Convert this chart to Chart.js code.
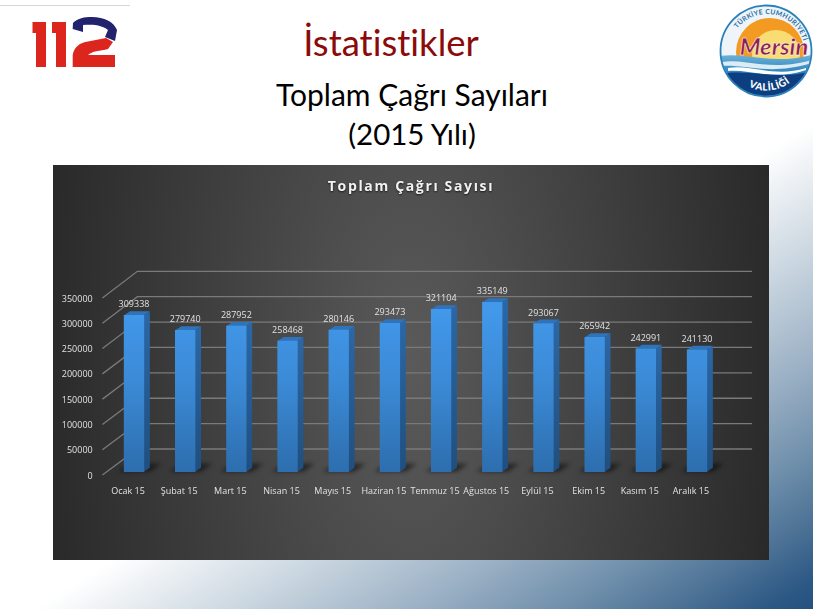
<!DOCTYPE html>
<html>
<head>
<meta charset="utf-8">
<title>Toplam Çağrı Sayıları</title>
<script src="https://cdn.jsdelivr.net/npm/chart.js@4"></script>
<style>
html,body{margin:0;padding:0;width:813px;height:609px;overflow:hidden}
body{position:relative;font-family:Lato,sans-serif;font-variant-ligatures:none;
  background:linear-gradient(148deg,#fff 0,#fff 56.5%,#c5d2dd 69%,#9db2c6 77.4%,#6f8fab 86%,#4f7497 91.7%,#2c5885 97.4%,#245180 100%)}
.t{position:absolute;left:0;white-space:nowrap;text-align:center;line-height:1}
#head{left:291px;width:200px;top:24px;font-size:36.5px;color:#8b0a0a}
#sub1{left:262px;width:300px;top:79px;font-size:30px;color:#000}
#sub2{left:262px;width:300px;top:119px;font-size:29.5px;color:#000}
#topline{position:absolute;left:0;top:5px;width:130px;height:1px;background:#d8d8d8}
#panel{position:absolute;left:53px;top:165px;width:716px;height:395px;
  background:radial-gradient(ellipse 52% 200% at center,#5a5a5a 0,#292929 100%)}
svg{position:absolute;left:0;top:0}
</style>
</head>
<body>
<div id="topline"></div>
<svg width="813" height="110" viewBox="0 0 813 110">
  <path fill="#dc251c" d="M32.5 22H46V67H36V33H32.5Z"/>
  <path fill="#dc251c" d="M52 22H66V67H56V33H52Z"/>
  <path fill="#dc251c" d="M72.7 67V55C74 47 80 42.5 88 41.5L106 38L113 42L108 49C100 51 92 51 88 55H115V67Z"/>
  <path fill="#22226e" d="M72.7 29L73 23C78 18 84 17 92 17C104 17 114 22 117 30L115 41L105 37L108 30C103 26 96 24 83 25V32Z"/>
  <defs>
    <path id="arcTop" d="M729 52A38 38 0 0 1 805 52"/>
    <path id="arcBot" d="M728 63A40 40 0 0 0 804 63"/>
    <clipPath id="disc"><circle cx="766" cy="51" r="45"/></clipPath>
    <linearGradient id="sea" x1="0" y1="0" x2="0" y2="1">
      <stop offset="0" stop-color="#6fb4da"/><stop offset=".5" stop-color="#1c78b8"/><stop offset="1" stop-color="#0d3f80"/>
    </linearGradient>
  </defs>
  <circle cx="766" cy="51" r="46" fill="#e8f0f6"/>
  <g clip-path="url(#disc)">
    <rect x="720" y="0" width="94" height="100" fill="#eef4f8"/>
    <circle cx="770" cy="52" r="34" fill="#f29a22"/>
    <circle cx="776" cy="54" r="24" fill="#f9dc72"/>
    <path fill="url(#sea)" d="M720 56C745 52 775 66 814 54V100H720Z"/>
    <path fill="#dcecf5" d="M722 62C745 58 770 72 812 60V63C770 76 745 64 722 66Z"/>
    <path fill="#fff" d="M728 68C750 64 775 78 806 68V70C775 81 750 69 728 71Z"/>
    <path fill="#0d3f80" d="M720 74C750 68 780 82 814 70V100H720Z"/>
  </g>
  <circle cx="766" cy="51" r="45.5" fill="none" stroke="#2a80b9" stroke-width="1.8"/>
  <text font-family="Lato" font-weight="700" font-size="6.8" fill="#1f6fa8" letter-spacing=".3"><textPath href="#arcTop" startOffset="56%" text-anchor="middle">TÜRKİYE CUMHURİYETİ</textPath></text>
  <text x="774" y="55" text-anchor="middle" font-family="Lato" font-style="italic" font-weight="900" font-size="23.5" fill="#8f1f4e" stroke="#fff" stroke-width=".5">Mersin</text>
  <text font-family="Lato" font-weight="900" font-size="10" fill="#fff" letter-spacing=".5"><textPath href="#arcBot" startOffset="54%" text-anchor="middle">VALİLİĞİ</textPath></text>
</svg>
<div class="t" id="head">İstatistikler</div>
<div class="t" id="sub1">Toplam Çağrı Sayıları</div>
<div class="t" id="sub2">(2015 Yılı)</div>
<div id="panel"><canvas id="myChart" width="716" height="395"></canvas></div>
<script>
var months = ['Ocak 15','Şubat 15','Mart 15','Nisan 15','Mayıs 15','Haziran 15',
              'Temmuz 15','Ağustos 15','Eylül 15','Ekim 15','Kasım 15','Aralık 15'];
var callCounts = [309338,279740,287952,258468,280146,293473,
                  321104,335149,293067,265942,242991,241130];
var yTicks = [0,50000,100000,150000,200000,250000,300000,350000];

var labelFont = '9px "Open Sans"';
var labelColor = '#e2e2e2';
var gridColor = '#7a7a7a';
var depthX = 6, depthY = 4;      // bar depth
var wallX = 35;                  // floor depth

function setTicks(scale){
  scale.ticks = yTicks.map(function(v){ return {value:v}; });
}

function barGradient(ctx){
  var c = ctx.chart, y = c.scales.yBar;
  if(!c.chartArea) return '#3a86d0';
  var g = c.ctx.createLinearGradient(0,y.getPixelForValue(320000),0,y.getPixelForValue(0));
  g.addColorStop(0,'#4298ea');
  g.addColorStop(0.45,'#3b8ad6');
  g.addColorStop(1,'#2d6eae');
  return g;
}

// back wall grid, floor shadow and the side and top of the bars
var depthPlugin = {
  id:'depth',
  afterLayout:function(chart){
    // title has wide letters and a soft shadow in the original
    var t = chart.titleBlock;
    if(t.spaced) return;
    t.spaced = true;
    var draw = t.draw;
    t.draw = function(){
      var c = chart.ctx;
      c.save();
      c.letterSpacing = '1.65px';
      c.shadowColor = 'rgba(0,0,0,.7)';
      c.shadowBlur = 2;
      c.shadowOffsetY = 1;
      draw.call(t);
      c.restore();
    };
  },
  beforeDatasetsDraw:function(chart){
    var c = chart.ctx, back = chart.scales.yBack, front = chart.scales.y;
    var right = chart.chartArea.right;
    var xFront = chart.chartArea.left - 6;
    c.save();
    c.strokeStyle = gridColor;
    c.lineWidth = 1.3;
    yTicks.forEach(function(v){
      var yb = back.getPixelForValue(v), yf = front.getPixelForValue(v);
      c.beginPath();
      c.moveTo(xFront,yf);
      c.lineTo(xFront+wallX,yb);
      c.lineTo(right+29.5,yb);
      c.stroke();
    });
    c.restore();

    var base = chart.scales.yBar.getPixelForValue(0);
    var bars = chart.getDatasetMeta(0).data;
    c.save();
    c.filter = 'blur(2px)';
    c.fillStyle = 'rgba(0,0,0,.5)';
    bars.forEach(function(b){
      var l = b.x-b.width/2, r = b.x+b.width/2;
      c.beginPath();
      c.moveTo(l-6,base);
      c.lineTo(r+6,base);
      c.lineTo(r+17,base-8);
      c.lineTo(l+6,base-8);
      c.closePath();
      c.fill();
    });
    c.restore();

    c.save();
    bars.forEach(function(b){
      var l = b.x-b.width/2, r = b.x+b.width/2;
      var g = c.createLinearGradient(0,b.y,0,base);
      g.addColorStop(0,'#2a67a6');
      g.addColorStop(1,'#1f4f80');
      c.fillStyle = g;
      c.beginPath();
      c.moveTo(r,b.y);
      c.lineTo(r+depthX,b.y-depthY);
      c.lineTo(r+depthX,base-depthY);
      c.lineTo(r,base);
      c.closePath();
      c.fill();
      c.fillStyle = '#2f74bb';
      c.beginPath();
      c.moveTo(l,b.y);
      c.lineTo(l+depthX,b.y-depthY);
      c.lineTo(r+depthX,b.y-depthY);
      c.lineTo(r,b.y);
      c.closePath();
      c.fill();
    });
    c.restore();
  },
  afterDatasetsDraw:function(chart){
    var c = chart.ctx;
    var bars = chart.getDatasetMeta(0).data;
    c.save();
    c.font = labelFont;
    c.fillStyle = labelColor;
    c.textAlign = 'center';
    c.textBaseline = 'middle';
    bars.forEach(function(b,i){
      c.fillText(callCounts[i],b.x,b.y-10.5);
    });
    c.restore();
  }
};

var ctx = document.getElementById('myChart').getContext('2d');

var myBarChart = new Chart(ctx, {
  type:'bar',
  data:{
    labels:months,
    datasets:[{
      data:callCounts,
      yAxisID:'yBar',
      backgroundColor:barGradient,
      borderWidth:0,
      barThickness:19.7
    }]
  },
  options:{
    responsive:false,
    animation:false,
    plugins:{
      legend:{display:false},
      tooltip:{enabled:false},
      title:{
        display:true,
        text:'Toplam Çağrı Sayısı',
        color:'#f2f2f2',
        font:{family:'"Open Sans"',size:14,weight:'bold',lineHeight:1.2},
        padding:{top:13.6,bottom:75.9}
      }
    },
    scales:{
      x:{
        grid:{display:false},
        border:{display:false},
        ticks:{color:labelColor,font:{family:'"Open Sans"',size:9},padding:3,labelOffset:-6,
               maxRotation:0,autoSkip:false},
        afterFit:function(s){ s.height = 85; }
      },
      y:{
        min:0,max:402800,
        grid:{display:false,drawTicks:false},
        border:{display:false},
        afterBuildTicks:setTicks,
        ticks:{color:labelColor,font:{family:'"Open Sans"',size:9},padding:15.7,labelOffset:1,
               callback:function(v){ return v; }},
        afterFit:function(s){ s.width = 55.4; }
      },
      yBar:{min:-6525,max:396275,display:false},
      // only here to hold the right margin of the plot
      yBack:{min:-51200,max:350000,position:'right',
        grid:{display:false,drawTicks:false},border:{display:false},ticks:{display:false},
        afterFit:function(s){ s.width = 46.4; }}
    }
  },
  plugins:[depthPlugin]
});
</script>
</body>
</html>
